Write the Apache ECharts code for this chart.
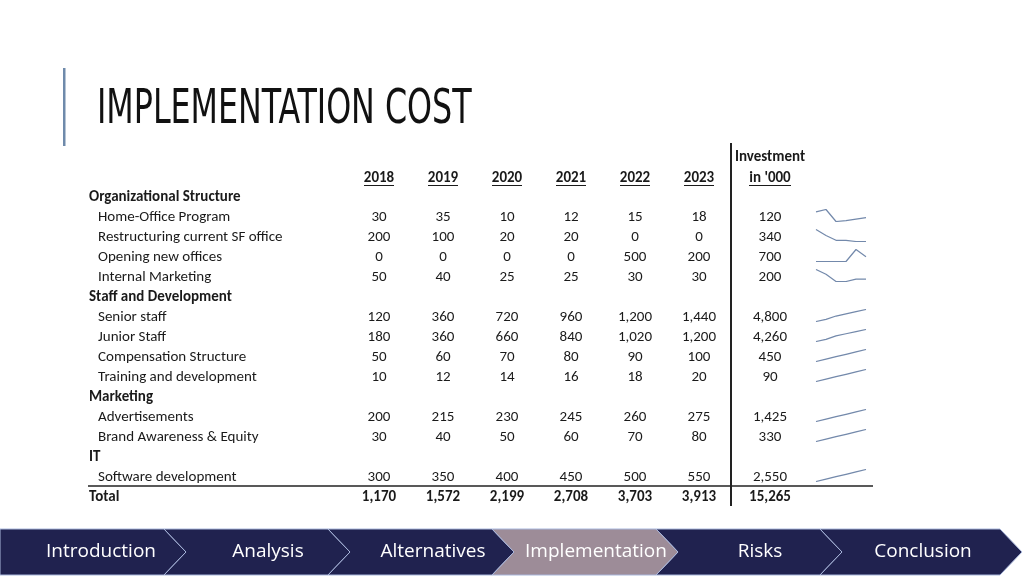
<!DOCTYPE html>
<html>
<head>
<meta charset="utf-8">
<script src="https://cdn.jsdelivr.net/npm/echarts@6/dist/echarts.min.js"></script>
<style>
html,body{margin:0;padding:0;background:#fff;}
#c{width:1024px;height:576px;}
</style>
</head>
<body>
<div id="c"></div>
<script>
// ---- data ----
const years = ['2018', '2019', '2020', '2021', '2022', '2023'];
const homeOffice = [30, 35, 10, 12, 15, 18];
const restructuring = [200, 100, 20, 20, 0, 0];
const openingOffices = [0, 0, 0, 0, 500, 200];
const internalMarketing = [50, 40, 25, 25, 30, 30];
const seniorStaff = [120, 360, 720, 960, 1200, 1440];
const juniorStaff = [180, 360, 660, 840, 1020, 1200];
const compensation = [50, 60, 70, 80, 90, 100];
const training = [10, 12, 14, 16, 18, 20];
const advertisements = [200, 215, 230, 245, 260, 275];
const brandAwareness = [30, 40, 50, 60, 70, 80];
const software = [300, 350, 400, 450, 500, 550];
const totals = [1170, 1572, 2199, 2708, 3703, 3913];
const investment = [120, 340, 700, 200, 4800, 4260, 450, 90, 1425, 330, 2550];
const investmentTotal = 15265;
const navItems = ['Introduction', 'Analysis', 'Alternatives', 'Implementation', 'Risks', 'Conclusion'];
const activeNav = 'Implementation';

const rows = [
  { cat: 'Organizational Structure' },
  { label: 'Home-Office Program', values: homeOffice },
  { label: 'Restructuring current SF office', values: restructuring },
  { label: 'Opening new offices', values: openingOffices },
  { label: 'Internal Marketing', values: internalMarketing },
  { cat: 'Staff and Development' },
  { label: 'Senior staff', values: seniorStaff },
  { label: 'Junior Staff', values: juniorStaff },
  { label: 'Compensation Structure', values: compensation },
  { label: 'Training and development', values: training },
  { cat: 'Marketing' },
  { label: 'Advertisements', values: advertisements },
  { label: 'Brand Awareness & Equity', values: brandAwareness },
  { cat: 'IT' },
  { label: 'Software development', values: software }
];

// ---- layout ----
const FONT = 'Carlito, Lato, "Liberation Sans", sans-serif';
const FS = '15px ';
const NAVFONT = '"Open Sans", Lato, sans-serif';
const fmt = v => v.toLocaleString('en-US');
const rowY0 = 196, rowStep = 20, tdy = 1.5;
const colX0 = 379, colStep = 64;
const invX = 770;
const textColor = '#1a1a1a';

const graphic = [];
const grids = [], xAxes = [], yAxes = [], series = [];

function txt(x, y, s, bold, align) {
  graphic.push({ type: 'text', x: x, y: y + tdy, style: { text: s, font: (bold ? 'bold ' : '') + FS + FONT, fill: textColor, textAlign: align || 'center', verticalAlign: 'middle' } });
}

// title
graphic.push({ type: 'rect', shape: { x: 63, y: 68, width: 2.5, height: 78 }, style: { fill: '#6f8aab' } });
graphic.push({ type: 'text', x: 97, y: 111, scaleX: 0.735, style: { text: 'IMPLEMENTATION COST', font: '48px "Liberation Sans Narrow", "DejaVu Sans Condensed", "Liberation Sans", sans-serif', fill: '#111', verticalAlign: 'middle', textAlign: 'left' } });

// headers
years.forEach((y, i) => {
  const x = colX0 + i * colStep;
  txt(x, 177, y, true);
  graphic.push({ type: 'line', shape: { x1: x - 15, y1: 185.5, x2: x + 15, y2: 185.5 }, style: { stroke: textColor, lineWidth: 1 } });
});
txt(invX, 156, 'Investment', true);
txt(invX, 177, "in '000", true);
graphic.push({ type: 'line', shape: { x1: invX - 21, y1: 185.5, x2: invX + 21, y2: 185.5 }, style: { stroke: textColor, lineWidth: 1 } });

// body rows
let invIdx = 0;
rows.forEach((r, ri) => {
  const y = rowY0 + ri * rowStep;
  if (r.cat) {
    txt(89, y, r.cat, true, 'left');
    return;
  }
  txt(98, y, r.label, false, 'left');
  r.values.forEach((v, i) => txt(colX0 + i * colStep, y, fmt(v), false));
  txt(invX, y, fmt(investment[invIdx]), false);
  invIdx++;
  // sparkline
  const gi = grids.length;
  grids.push({ left: 816, width: 50, top: y - 6.5, height: 12 });
  xAxes.push({ gridIndex: gi, type: 'category', data: years, show: false, boundaryGap: false });
  yAxes.push({ gridIndex: gi, type: 'value', show: false, scale: true, min: 'dataMin', max: 'dataMax' });
  series.push({ type: 'line', xAxisIndex: gi, yAxisIndex: gi, data: r.values, symbol: 'none', silent: true, lineStyle: { color: '#7389ab', width: 1.2 } });
});

// total row
const totalY = rowY0 + rows.length * rowStep;
txt(89, totalY, 'Total', true, 'left');
totals.forEach((v, i) => txt(colX0 + i * colStep, totalY, fmt(v), true));
txt(invX, totalY, fmt(investmentTotal), true);

// rules
graphic.push({ type: 'line', shape: { x1: 88, y1: 486, x2: 873, y2: 486 }, style: { stroke: '#222', lineWidth: 1.5 } });
graphic.push({ type: 'line', shape: { x1: 731, y1: 143, x2: 731, y2: 506 }, style: { stroke: '#222', lineWidth: 2 } });

// nav bar
const navStarts = [0, 164, 328, 492, 656, 820];
const navEnds = [164, 328, 492, 656, 820, 1000];
const navCenters = [101, 268, 433, 596, 760, 923];
const navTop = 529, navBot = 575, navMid = 552, navTip = 22;
navItems.forEach((name, i) => {
  const xs = navStarts[i], xe = navEnds[i];
  const pts = i === 0
    ? [[xs, navTop], [xe, navTop], [xe + navTip, navMid], [xe, navBot], [xs, navBot]]
    : [[xs, navTop], [xe, navTop], [xe + navTip, navMid], [xe, navBot], [xs, navBot], [xs + navTip, navMid]];
  graphic.push({ type: 'polygon', z: name === activeNav ? 2 : 1, shape: { points: pts }, style: { fill: name === activeNav ? '#9d8c98' : '#20224f', stroke: '#a9b7dc', lineWidth: 1 } });
  graphic.push({ type: 'text', z: 3, x: navCenters[i], y: navMid, style: { text: name, font: '19px ' + NAVFONT, fill: '#ffffff', textAlign: 'center', verticalAlign: 'middle' } });
});

const chart = echarts.init(document.getElementById('c'), null, { renderer: 'canvas' });
chart.setOption({
  animation: false,
  backgroundColor: '#ffffff',
  grid: grids,
  xAxis: xAxes,
  yAxis: yAxes,
  series: series,
  graphic: { elements: graphic }
});
</script>
</body>
</html>
